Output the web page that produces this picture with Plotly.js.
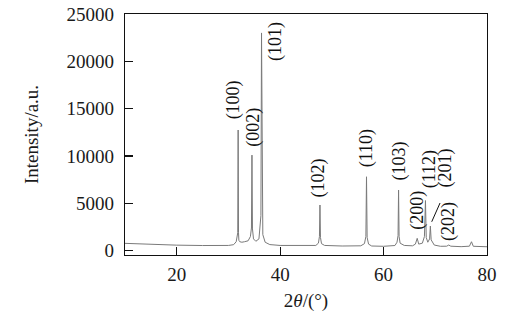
<!DOCTYPE html>
<html>
<head>
<meta charset="utf-8">
<script src="https://cdn.plot.ly/plotly-3.0.1.min.js"></script>
<style>html,body{margin:0;padding:0;background:#fff;}#chart{width:524px;height:312px;}</style>
</head>
<body>
<div id="chart"></div>
<script>
// XRD pattern
const twoTheta = [10, 12, 15, 20, 25, 28, 30, 31.0, 31.5, 31.8, 31.88, 31.95, 32.02, 32.2, 32.6, 33.1, 33.8, 34.25, 34.45, 34.55, 34.65, 34.85, 35.3, 35.9, 36.15, 36.28, 36.4, 36.5, 36.65, 37.1, 38, 40, 44, 46.9, 47.4, 47.6, 47.7, 47.8, 48.0, 48.6, 52, 55.6, 56.3, 56.58, 56.7, 56.82, 57.1, 57.7, 60, 62.2, 62.6, 62.8, 62.9, 63.0, 63.2, 64, 65.6, 66.15, 66.5, 66.8, 67.5, 67.9, 68.1, 68.25, 68.55, 68.9, 69.05, 69.2, 69.8, 71, 72.2, 72.6, 73.0, 75, 76.6, 77.0, 77.35, 80];
const intensity = [780, 730, 660, 590, 550, 540, 560, 640, 950, 1900, 12750, 1900, 1100, 950, 900, 950, 1050, 1500, 2400, 10100, 2300, 1250, 1000, 1250, 2500, 3700, 23000, 3500, 1700, 900, 650, 560, 520, 560, 800, 1500, 4830, 1400, 750, 560, 500, 520, 750, 1500, 7810, 1400, 700, 500, 470, 550, 900, 1600, 6410, 1500, 800, 560, 520, 700, 1310, 700, 800, 1500, 5300, 1400, 900, 1250, 2610, 1150, 600, 470, 480, 600, 480, 430, 480, 950, 470, 420];

// Miller-index labels
const hkl = ["(100)", "(002)", "(101)", "(102)", "(110)", "(103)", "(200)", "(112)", "(201)", "(202)"];
const labelX = [30.94, 34.81, 39.0, 47.52, 56.74, 63.05, 66.41, 68.85, 71.95, 72.52];
const labelY = [15910, 13010, 22140, 7620, 10790, 9470, 4300, 8630, 8730, 3060];

// leader line from the (201) label to its peak
const leaderX = [70.92, 69.31];
const leaderY = [5040, 3060];

const font = "'Liberation Serif', 'Times New Roman', serif";

const annotations = hkl.map((t, i) => ({
  x: labelX[i], y: labelY[i], xref: 'x', yref: 'y',
  text: t, showarrow: false, textangle: -90,
  font: {family: font, size: 18, color: '#111'},
  xanchor: 'center', yanchor: 'middle'
}));

const trace = {
  x: twoTheta, y: intensity, type: 'scatter', mode: 'lines',
  line: {color: '#7a7a7a', width: 1}, hoverinfo: 'none'
};

const layout = {
  width: 524, height: 312,
  margin: {l: 125, r: 37, t: 14, b: 57},
  paper_bgcolor: '#fff', plot_bgcolor: '#fff',
  showlegend: false,
  font: {family: font, size: 19, color: '#1a1a1a'},
  xaxis: {
    range: [10, 80], tickvals: [20, 40, 60, 80], ticktext: ['20', '40', '60', '80'],
    ticks: 'inside', ticklen: 8, tickwidth: 1.2, tickcolor: '#111',
    showline: true, linecolor: '#111', linewidth: 1.3, mirror: true,
    showgrid: false, zeroline: false,
    ticklabelstandoff: 2,
    title: {text: '2<i>θ</i>/(°)', font: {family: font, size: 19, color: '#1a1a1a'}, standoff: 13}
  },
  yaxis: {
    range: [-450, 25000], tickvals: [0, 5000, 10000, 15000, 20000, 25000],
    ticktext: ['0', '5000', '10000', '15000', '20000', '25000'],
    ticks: 'inside', ticklen: 8, tickwidth: 1.2, tickcolor: '#111',
    showline: true, linecolor: '#111', linewidth: 1.3, mirror: true,
    showgrid: false, zeroline: false,
    ticklabelstandoff: 6,
    title: {text: 'Intensity/a.u.', font: {family: font, size: 19, color: '#1a1a1a'}, standoff: 22}
  },
  annotations: annotations,
  shapes: [{
    type: 'line', xref: 'x', yref: 'y',
    x0: leaderX[0], y0: leaderY[0], x1: leaderX[1], y1: leaderY[1],
    line: {color: '#111', width: 1}
  }]
};

Plotly.newPlot('chart', [trace], layout, {staticPlot: true, displayModeBar: false});
</script>
</body>
</html>
